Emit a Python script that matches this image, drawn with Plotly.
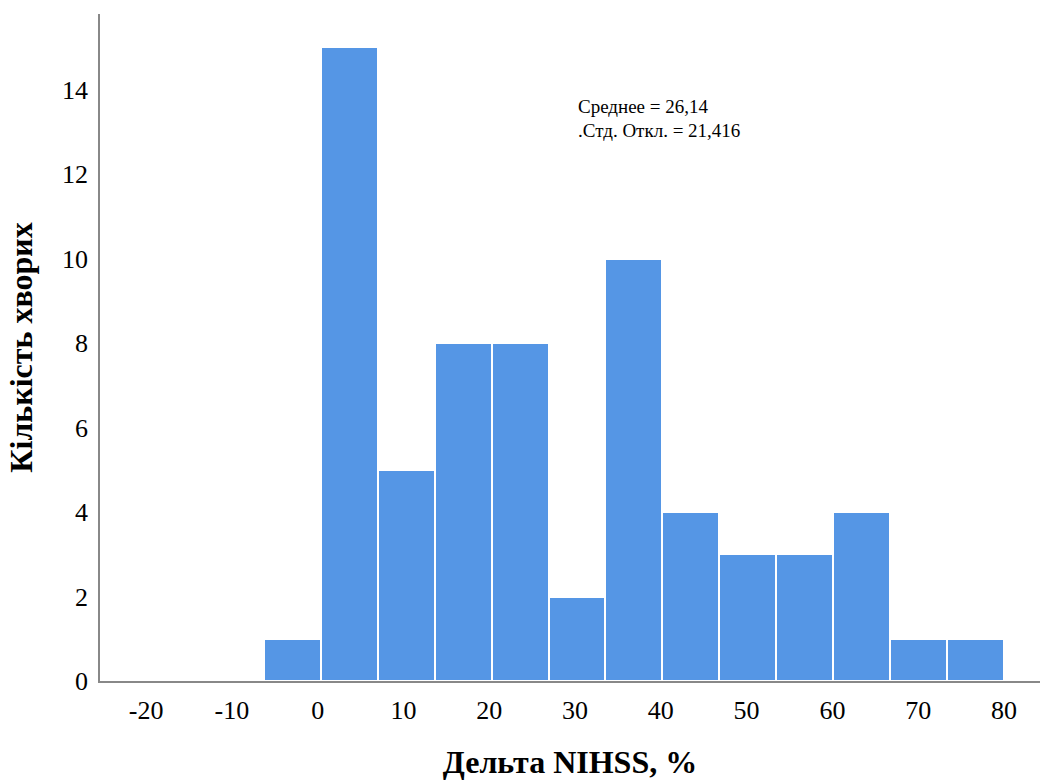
import plotly.graph_objects as go

bin_width = 6.635
first_bin_start = -6.26
counts = [1, 15, 5, 8, 8, 2, 10, 4, 3, 3, 4, 1, 1]
x_ticks = [-20, -10, 0, 10, 20, 30, 40, 50, 60, 70, 80]
y_ticks = [0, 2, 4, 6, 8, 10, 12, 14]
stats_lines = ["Среднее = 26,14", ".Стд. Откл. = 21,416"]

centers = [first_bin_start + bin_width * (i + 0.5) for i in range(len(counts))]

font_family = "Liberation Serif, Times New Roman, serif"

fig = go.Figure(go.Bar(
    x=centers, y=counts, width=[bin_width] * len(counts),
    marker=dict(color="#5596E5", line=dict(color="white", width=2)),
))

fig.update_layout(
    width=1041, height=780,
    margin=dict(l=100, r=1, t=14, b=99),
    plot_bgcolor="white", paper_bgcolor="white",
    font=dict(family=font_family, color="black"),
    showlegend=False,
    bargap=0,
)
fig.update_xaxes(
    range=[-25.37, 84.2], tickvals=x_ticks, ticktext=[str(v) for v in x_ticks],
    showgrid=False, zeroline=False, showline=True, linecolor="#888888", linewidth=1.5,
    ticks="outside", ticklen=5, tickcolor="rgba(0,0,0,0)", tickfont=dict(size=26, family=font_family),
    title=dict(text="<b>Дельта NIHSS, %</b>", font=dict(size=32, family=font_family), standoff=30),
)
fig.update_yaxes(
    range=[0, 15.79], tickvals=y_ticks,
    showgrid=False, zeroline=False, showline=True, linecolor="#888888", linewidth=1.5,
    ticks="outside", ticklen=5, tickcolor="rgba(0,0,0,0)", tickfont=dict(size=26, family=font_family),
    title=dict(text="<b>Кількість хворих</b>", font=dict(size=32, family=font_family), standoff=20),
)
for txt, yp in zip(stats_lines, [0.862, 0.826]):
    fig.add_annotation(
        x=0.507, y=yp, xref="paper", yref="paper", xanchor="left", yanchor="middle",
        text=txt, showarrow=False, align="left", borderpad=0,
        font=dict(size=19, family=font_family, color="black"),
    )
fig.write_html("out.html")
